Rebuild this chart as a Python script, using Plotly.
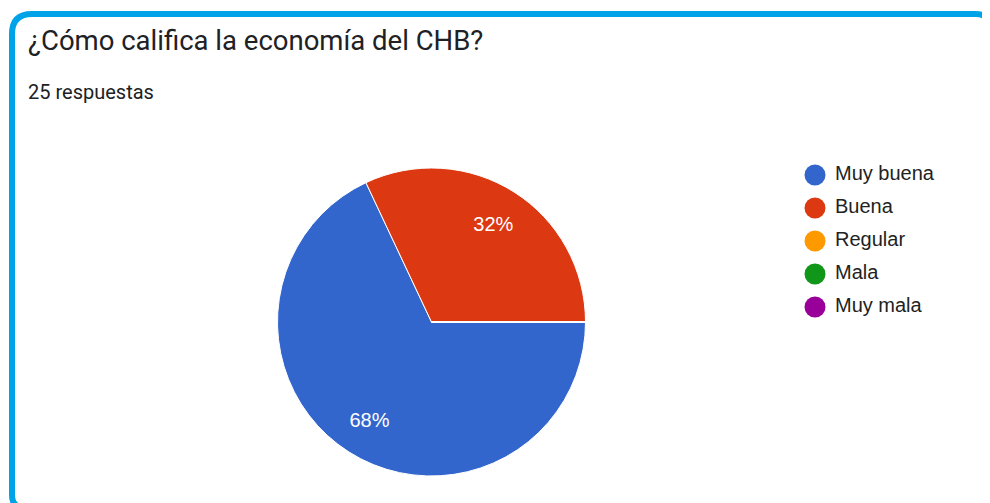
"""Pie chart: ¿Cómo califica la economía del CHB?"""
import plotly.graph_objects as go

# the page body adds an 8px margin, so the figure is a bit smaller than the window
OFF = 8
W, H = 990 - OFF, 503 - OFF

categories = ["Muy buena", "Buena", "Regular", "Mala", "Muy mala"]
counts = [17, 8, 0, 0, 0]
colors = ["#3366cc", "#dc3912", "#ff9900", "#109618", "#990099"]
title = "¿Cómo califica la economía del CHB?"
subtitle = "25 respuestas"


def px_x(x):
    # screen pixel -> paper fraction
    return (x - OFF) / W


def px_y(y):
    return (H - (y - OFF)) / H


fig = go.Figure()

cx, cy, r = 431.5, 322, 154
pie_domain = dict(x=[px_x(cx - r), px_x(cx + r)], y=[px_y(cy + r), px_y(cy - r)])

# the pie itself
fig.add_trace(
    go.Pie(
        labels=categories,
        values=counts,
        sort=False,
        direction="clockwise",
        rotation=90,
        marker=dict(colors=colors, line=dict(color="white", width=1)),
        textinfo="none",
        showlegend=False,
        hoverinfo="label+percent",
        domain=pie_domain,
    )
)

# transparent ring on top, only to put the percentages further out
fig.add_trace(
    go.Pie(
        labels=categories,
        values=counts,
        sort=False,
        direction="clockwise",
        rotation=90,
        hole=0.5,
        marker=dict(colors=["rgba(0,0,0,0)"] * len(categories), line=dict(width=0)),
        textinfo="percent",
        textposition="inside",
        insidetextorientation="horizontal",
        textfont=dict(family="Arial", size=20, color="white"),
        showlegend=False,
        hoverinfo="skip",
        domain=pie_domain,
    )
)

# circle legend, drawn as scatter on hidden axes
fig.add_trace(
    go.Scatter(
        x=[0] * len(categories),
        y=categories,
        mode="markers",
        marker=dict(size=21, color=colors),
        showlegend=False,
        hoverinfo="skip",
        cliponaxis=False,
    )
)
fig.add_trace(
    go.Scatter(
        x=[20] * len(categories),
        y=categories,
        mode="text",
        text=categories,
        textposition="middle right",
        textfont=dict(family="Arial", size=20, color="#222222"),
        showlegend=False,
        hoverinfo="skip",
        cliponaxis=False,
    )
)

fig.update_layout(
    width=W,
    height=H,
    margin=dict(l=0, r=0, t=0, b=0),
    paper_bgcolor="white",
    plot_bgcolor="white",
    xaxis=dict(domain=[px_x(792), px_x(970)], range=[-23, 155],
               visible=False, fixedrange=True),
    yaxis=dict(
        domain=[px_y(323.5), px_y(158.5)],
        type="category",
        categoryorder="array",
        categoryarray=categories,
        range=[len(categories) - 0.5, -0.5],
        visible=False,
        fixedrange=True,
    ),
    annotations=[
        dict(
            text=title, xref="paper", yref="paper", x=px_x(26), y=px_y(41),
            xanchor="left", yanchor="middle", showarrow=False,
            font=dict(family="Roboto", size=27.5, color="#202124"),
        ),
        dict(
            text=subtitle, xref="paper", yref="paper", x=px_x(26), y=px_y(92),
            xanchor="left", yanchor="middle", showarrow=False,
            font=dict(family="Roboto", size=20, color="#202124"),
        ),
    ],
)

# blue frame: only the left and top sides (with their corners) show in the crop
left, top, right, bottom = 12, 14, 989, 508
rt, rb = 20, 13
path = (
    f"M {px_x(left + rb)},{px_y(bottom)} "
    f"Q {px_x(left)},{px_y(bottom)} {px_x(left)},{px_y(bottom - rb)} "
    f"L {px_x(left)},{px_y(top + rt)} "
    f"Q {px_x(left)},{px_y(top)} {px_x(left + rt)},{px_y(top)} "
    f"L {px_x(right - rb)},{px_y(top)} "
    f"Q {px_x(right)},{px_y(top)} {px_x(right)},{px_y(top + rb)} "
    f"L {px_x(right)},{px_y(top + rb + 4)}"
)
fig.add_shape(
    type="path", path=path, xref="paper", yref="paper",
    line=dict(color="#00a2e8", width=6), layer="above",
)

fig.write_html("out.html")
